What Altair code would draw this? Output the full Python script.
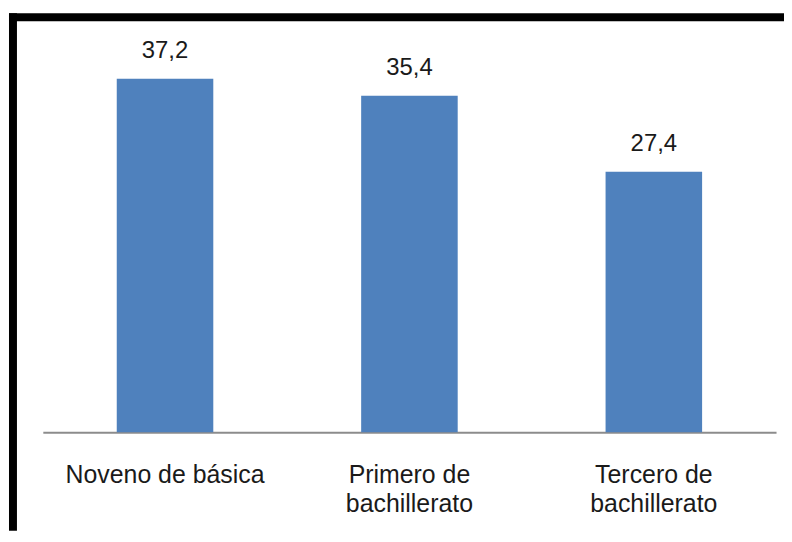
import altair as alt
import pandas as pd

categories = ["Noveno de básica", "Primero de bachillerato", "Tercero de bachillerato"]
values = [37.2, 35.4, 27.4]

df = pd.DataFrame({"cat": categories, "val": values})

PLOT_W, PLOT_H = 737, 382
PAD_L, PAD_T, PAD_R, PAD_B = 35, 43, 8, 99
TOTAL_W = PAD_L + PLOT_W + PAD_R
TOTAL_H = PAD_T + PLOT_H + PAD_B

FONT = "Liberation Sans"

x_enc = alt.X(
    "cat:N",
    sort=categories,
    scale=alt.Scale(paddingInner=0.605, paddingOuter=0.3025),
    axis=alt.Axis(
        title=None,
        labelAngle=0,
        ticks=False,
        labelPadding=31,
        labelFont=FONT,
        labelFontSize=25,
        labelColor="#1a1a1a",
        labelLimit=0,
        labelLineHeight=29,
        labelBaseline="top",
        domainColor="#8c8c8c",
        domainWidth=2,
        grid=False,
        labelExpr="datum.label == 'Noveno de básica' ? datum.label : split(replace(datum.label, ' de ', ' de|'), '|')",
    ),
)
y_enc = alt.Y("val:Q", scale=alt.Scale(domain=[0, 40]), axis=None)

base = alt.Chart(df)

bars = base.mark_bar(color="#4f81bd").encode(x=x_enc, y=y_enc)

labels = base.transform_calculate(
    lbl="replace(format(datum.val, '.1f'), '.', ',')"
).mark_text(
    baseline="alphabetic", dy=-21, font=FONT, fontSize=24, color="#1a1a1a"
).encode(x=x_enc, y=y_enc, text="lbl:N")

one = alt.Data(values=[{"a": 1}])
left_border = alt.Chart(one).mark_rule(color="black", strokeWidth=8).encode(
    x=alt.value(-30), y=alt.value(-39), y2=alt.value(TOTAL_H - PAD_T)
)
top_border = alt.Chart(one).mark_rule(color="black", strokeWidth=8).encode(
    y=alt.value(-35), x=alt.value(-34), x2=alt.value(TOTAL_W - PAD_L)
)

chart = alt.layer(bars, labels, left_border, top_border).properties(
    width=PLOT_W,
    height=PLOT_H,
    autosize=alt.AutoSizeParams(type="none"),
    padding={"left": PAD_L, "top": PAD_T, "right": PAD_R, "bottom": PAD_B},
    background="white",
).configure_view(stroke=None)

chart.save("out.html", embed_options={"renderer": "svg", "actions": False})
